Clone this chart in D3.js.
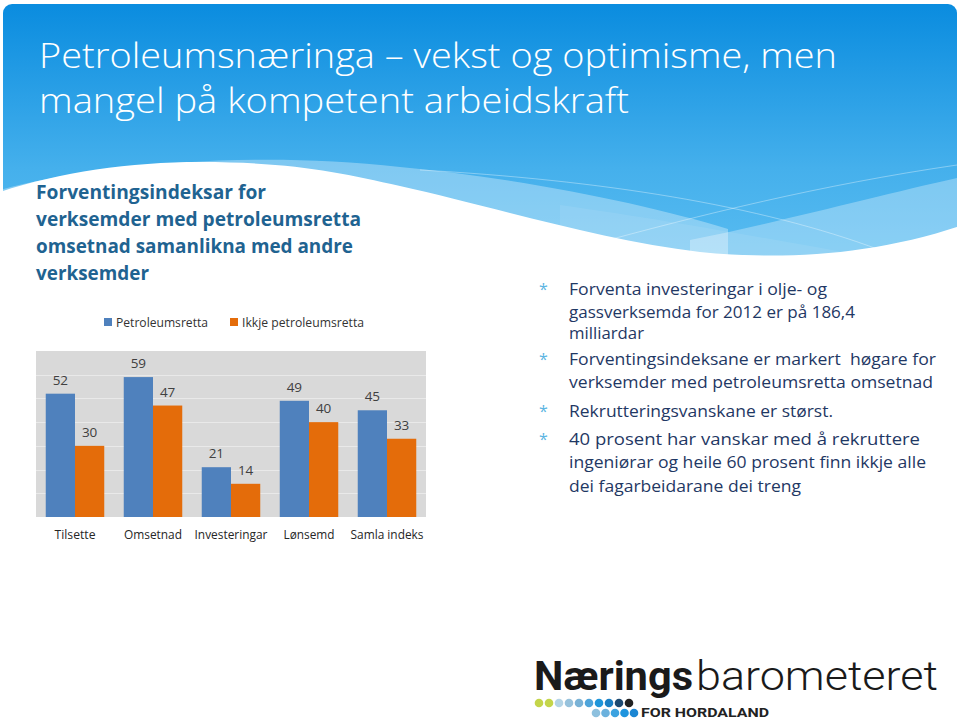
<!DOCTYPE html>
<html>
<head>
<meta charset="utf-8">
<script src="https://cdn.jsdelivr.net/npm/d3@7"></script>
<style>
  html, body { margin: 0; padding: 0; background: #ffffff; }
  svg { display: block; }
  text { white-space: pre; }
</style>
</head>
<body>
<svg id="slide" width="960" height="724"></svg>
<script>
// ---- Data ----
const categories = ["Tilsette", "Omsetnad", "Investeringar", "Lønsemd", "Samla indeks"];
const petroleumValues = [52, 59, 21, 49, 45];
const otherValues = [30, 47, 14, 40, 33];
const seriesNames = ["Petroleumsretta", "Ikkje petroleumsretta"];
const gridTicks = [10, 20, 30, 40, 50, 60];
const yMax = 70;

const titleLines = ["Petroleumsnæringa – vekst og optimisme, men", "mangel på kompetent arbeidskraft"];
const subtitleLines = ["Forventingsindeksar for", "verksemder med petroleumsretta", "omsetnad samanlikna med andre", "verksemder"];
const bulletLines = [
  { t: "Forventa investeringar i olje- og", b: true },
  { t: "gassverksemda for 2012 er på 186,4", b: false },
  { t: "milliardar", b: false },
  { t: "Forventingsindeksane er markert  høgare for", b: true },
  { t: "verksemder med petroleumsretta omsetnad", b: false },
  { t: "Rekrutteringsvanskane er størst.", b: true },
  { t: "40 prosent har vanskar med å rekruttere", b: true },
  { t: "ingeniørar og heile 60 prosent finn ikkje alle", b: false },
  { t: "dei fagarbeidarane dei treng", b: false }
];

// ---- Layout (styles / positions) ----
const svg = d3.select("#slide");
const colors = ["#4F81BD", "#E46C0A"];

function fit(sel, w) { return sel.attr("textLength", w).attr("lengthAdjust", "spacingAndGlyphs"); }

// Background header
const defs = svg.append("defs");
const grad = defs.append("linearGradient").attr("id", "sky").attr("x1", 0).attr("y1", 0).attr("x2", 0).attr("y2", 1);
grad.append("stop").attr("offset", "0%").attr("stop-color", "#0A8CDF");
grad.append("stop").attr("offset", "55%").attr("stop-color", "#45B0EC");
grad.append("stop").attr("offset", "100%").attr("stop-color", "#62C2F3");

svg.append("rect").attr("x", 3).attr("y", 4).attr("width", 954).attr("height", 300)
  .attr("rx", 9).attr("fill", "url(#sky)");

// pale translucent bands
svg.append("path")
  .attr("d", "M0,190 C90,165 250,150 400,167 C520,178 650,205 728,229 L728,320 L0,320 Z")
  .attr("fill", "#ffffff").attr("opacity", 0.32);
svg.append("path")
  .attr("d", "M690,240 C780,222 880,195 957,178 L957,320 L690,320 Z")
  .attr("fill", "#ffffff").attr("opacity", 0.3);
svg.append("path")
  .attr("d", "M560,205 C700,225 800,245 900,262 L900,320 L560,320 Z")
  .attr("fill", "#ffffff").attr("opacity", 0.08);
// faint crossing lines
svg.append("path")
  .attr("d", "M420,170 C600,180 760,205 880,250")
  .attr("fill", "none").attr("stroke", "#ffffff").attr("stroke-opacity", 0.35).attr("stroke-width", 1);
svg.append("path")
  .attr("d", "M590,245 C700,215 820,185 957,165")
  .attr("fill", "none").attr("stroke", "#ffffff").attr("stroke-opacity", 0.35).attr("stroke-width", 1);
// white wave
svg.append("path")
  .attr("d", "M0,192 C60,172 130,162 200,162 C290,162 340,172 400,186 C490,206 600,240 700,252 C780,260 870,256 960,226 L960,724 L0,724 Z")
  .attr("fill", "#ffffff");

// Title
const titleG = svg.append("g").attr("font-family", "'Open Sans', sans-serif").attr("font-weight", 300)
  .attr("fill", "#ffffff").attr("font-size", 35);
const titleW = [798, 590];
const titleY = [68, 113];
titleLines.forEach((t, i) => {
  fit(titleG.append("text").attr("x", 39).attr("y", titleY[i]).text(t), titleW[i]);
});

// Subtitle
const subG = svg.append("g").attr("font-family", "'Open Sans', sans-serif").attr("font-weight", 700)
  .attr("fill", "#1F6391").attr("font-size", 20);
const subW = [230, 325, 317, 113];
subtitleLines.forEach((t, i) => {
  fit(subG.append("text").attr("x", 36).attr("y", 199 + i * 27).text(t), subW[i]);
});

// Bullets
const bulletY = [295, 317.5, 338.5, 365, 388, 416.5, 445, 468, 491.5];
const bulletW = [258, 286, 75, 367, 364, 264, 351, 357, 232];
const bG = svg.append("g").attr("font-family", "'Open Sans', sans-serif").attr("font-size", 16.5).attr("fill", "#1F3864");
bulletLines.forEach((d, i) => {
  if (d.b) {
    bG.append("text").attr("x", 543.5).attr("y", bulletY[i]).attr("text-anchor", "middle")
      .attr("font-size", 16).attr("fill", "#5AB4E2").text("*");
  }
  fit(bG.append("text").attr("x", 569).attr("y", bulletY[i]).text(d.t), bulletW[i]);
});

// ---- Chart ----
const plot = { left: 36, right: 426, top: 351, bottom: 517 };
const x0 = d3.scaleBand().domain(categories).range([plot.left, plot.right]).paddingInner(0.25).paddingOuter(0.125);
const x1 = d3.scaleBand().domain(seriesNames).range([0, x0.bandwidth()]);
const y = d3.scaleLinear().domain([0, yMax]).range([plot.bottom, plot.top]);

const chart = svg.append("g");
chart.append("rect").attr("x", plot.left).attr("y", y(yMax)).attr("width", plot.right - plot.left)
  .attr("height", y(0) - y(yMax)).attr("fill", "#D9D9D9");

chart.append("g").selectAll("line").data(gridTicks).join("line")
  .attr("x1", plot.left).attr("x2", plot.right)
  .attr("y1", d => Math.round(y(d)) + 0.5).attr("y2", d => Math.round(y(d)) + 0.5)
  .attr("stroke", "#E9E9E9").attr("stroke-width", 1);

const rows = categories.map((c, i) => ({ c, vals: [petroleumValues[i], otherValues[i]] }));
const groups = chart.append("g").selectAll("g").data(rows).join("g")
  .attr("transform", d => `translate(${x0(d.c)},0)`);
groups.selectAll("rect").data(d => d.vals.map((v, j) => ({ v, s: seriesNames[j], j }))).join("rect")
  .attr("x", d => x1(d.s)).attr("width", x1.bandwidth())
  .attr("y", d => y(d.v)).attr("height", d => y(0) - y(d.v))
  .attr("fill", d => colors[d.j]);
groups.selectAll("text").data(d => d.vals.map((v, j) => ({ v, s: seriesNames[j], j }))).join("text")
  .attr("x", d => x1(d.s) + x1.bandwidth() / 2).attr("y", d => y(d.v) - 9)
  .attr("text-anchor", "middle").attr("font-family", "'Open Sans', sans-serif").attr("font-size", 13.5)
  .attr("fill", "#404040").text(d => d.v);

// category axis
const xAxis = d3.axisBottom(x0).tickSize(0).tickPadding(0);
const axG = chart.append("g").attr("transform", `translate(0,${plot.bottom})`).call(xAxis);
axG.select(".domain").remove();
const catW = { "Tilsette": 41, "Omsetnad": 58, "Investeringar": 73, "Lønsemd": 51, "Samla indeks": 73 };
axG.selectAll(".tick text").attr("y", 22).attr("dy", 0)
  .attr("font-family", "'Open Sans', sans-serif").attr("font-size", 13.5).attr("fill", "#262626")
  .each(function(d) { fit(d3.select(this), catW[d]); });

// legend
const legX = [104, 230];
const legW = [92, 122];
const leg = chart.append("g").selectAll("g").data(seriesNames).join("g");
leg.append("rect").attr("x", (d, i) => legX[i]).attr("y", 318).attr("width", 8).attr("height", 8)
  .attr("fill", (d, i) => colors[i]);
leg.append("text").attr("x", (d, i) => legX[i] + 12).attr("y", 326.5)
  .attr("font-family", "'Open Sans', sans-serif").attr("font-size", 12.5).attr("fill", "#333333")
  .text(d => d).each(function(d, i) { fit(d3.select(this), legW[i]); });

// ---- Logo ----
const logo = svg.append("g").attr("fill", "#1A1A1A");
fit(logo.append("text").attr("x", 534).attr("y", 690).attr("font-family", "Roboto, sans-serif")
  .attr("font-weight", 700).attr("font-size", 41).text("Nærings"), 159);
fit(logo.append("text").attr("x", 696).attr("y", 690).attr("font-family", "Roboto, sans-serif")
  .attr("font-weight", 300).attr("font-size", 41).text("barometeret"), 242);
const dotRow1 = ["#C4D54A", "#C4D54A", "#B4D4E6", "#97C2DC", "#79B2D6", "#4EA4DA", "#1E95DA", "#1A7FC4", "#1D4A72", "#222222"];
const dotRow2 = ["#8DC0DE", "#6BB1DD", "#3BA2E0", "#1E94DE", "#1B86D3"];
logo.append("g").selectAll("circle").data(dotRow1).join("circle")
  .attr("cx", (d, i) => 539 + i * 10).attr("cy", 703).attr("r", 4.3).attr("fill", d => d);
logo.append("g").selectAll("circle").data(dotRow2).join("circle")
  .attr("cx", (d, i) => 596 + i * 9.5).attr("cy", 713).attr("r", 4.3).attr("fill", d => d);
fit(logo.append("text").attr("x", 641).attr("y", 717).attr("font-family", "Roboto, sans-serif")
  .attr("font-weight", 700).attr("font-size", 13).attr("fill", "#222222").text("FOR HORDALAND"), 128);
</script>
</body>
</html>
